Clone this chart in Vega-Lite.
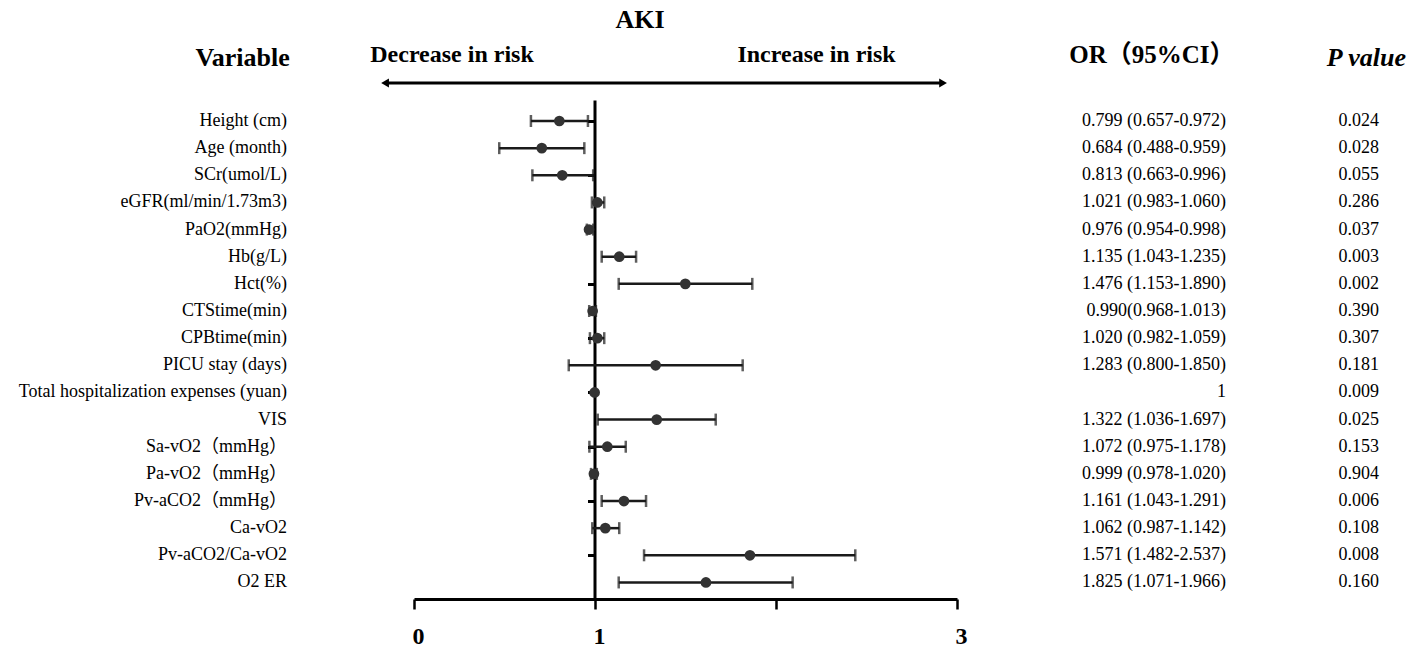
{
  "$schema": "https://vega.github.io/schema/vega-lite/v6.json",
  "width": 543,
  "height": 499,
  "autosize": {"type": "none"},
  "padding": {"left": 414, "top": 100, "right": 469, "bottom": 56},
  "background": "white",
  "config": {"view": {"stroke": null}, "font": "Liberation Serif"},
  "data": {
    "values": [
      {"row": 1, "variable": "Height (cm)", "or": 0.803, "lo": 0.646, "hi": 0.961, "or_text": "0.799 (0.657-0.972)", "p_text": "0.024"},
      {"row": 2, "variable": "Age (month)", "or": 0.706, "lo": 0.471, "hi": 0.941, "or_text": "0.684 (0.488-0.959)", "p_text": "0.028"},
      {"row": 3, "variable": "SCr(umol/L)", "or": 0.819, "lo": 0.654, "hi": 0.99, "or_text": "0.813 (0.663-0.996)", "p_text": "0.055"},
      {"row": 4, "variable": "eGFR(ml/min/1.73m3)", "or": 1.013, "lo": 0.983, "hi": 1.051, "or_text": "1.021 (0.983-1.060)", "p_text": "0.286"},
      {"row": 5, "variable": "PaO2(mmHg)", "or": 0.967, "lo": 0.955, "hi": 0.99, "or_text": "0.976 (0.954-0.998)", "p_text": "0.037"},
      {"row": 6, "variable": "Hb(g/L)", "or": 1.134, "lo": 1.037, "hi": 1.227, "or_text": "1.135 (1.043-1.235)", "p_text": "0.003"},
      {"row": 7, "variable": "Hct(%)", "or": 1.499, "lo": 1.131, "hi": 1.869, "or_text": "1.476 (1.153-1.890)", "p_text": "0.002"},
      {"row": 8, "variable": "CTStime(min)", "or": 0.987, "lo": 0.968, "hi": 1.005, "or_text": " 0.990(0.968-1.013)", "p_text": "0.390"},
      {"row": 9, "variable": "CPBtime(min)", "or": 1.013, "lo": 0.972, "hi": 1.051, "or_text": "1.020 (0.982-1.059)", "p_text": "0.307"},
      {"row": 10, "variable": "PICU stay (days)", "or": 1.335, "lo": 0.855, "hi": 1.816, "or_text": "1.283 (0.800-1.850)", "p_text": "0.181"},
      {"row": 11, "variable": "Total hospitalization expenses (yuan)", "or": 0.998, "lo": null, "hi": null, "or_text": "1", "p_text": "0.009"},
      {"row": 12, "variable": "VIS", "or": 1.341, "lo": 1.015, "hi": 1.667, "or_text": "1.322 (1.036-1.697)", "p_text": "0.025"},
      {"row": 13, "variable": "Sa-vO2（mmHg）", "or": 1.068, "lo": 0.969, "hi": 1.17, "or_text": "1.072 (0.975-1.178)", "p_text": "0.153"},
      {"row": 14, "variable": "Pa-vO2（mmHg）", "or": 0.994, "lo": 0.978, "hi": 1.01, "or_text": "0.999 (0.978-1.020)", "p_text": "0.904"},
      {"row": 15, "variable": "Pv-aCO2（mmHg）", "or": 1.16, "lo": 1.037, "hi": 1.282, "or_text": "1.161 (1.043-1.291)", "p_text": "0.006"},
      {"row": 16, "variable": "Ca-vO2", "or": 1.057, "lo": 0.985, "hi": 1.134, "or_text": "1.062 (0.987-1.142)", "p_text": "0.108"},
      {"row": 17, "variable": "Pv-aCO2/Ca-vO2", "or": 1.856, "lo": 1.271, "hi": 2.438, "or_text": "1.571 (1.482-2.537)", "p_text": "0.008"},
      {"row": 18, "variable": "O2 ER", "or": 1.613, "lo": 1.131, "hi": 2.092, "or_text": "1.825 (1.071-1.966)", "p_text": "0.160"}
    ]
  },
  "layer": [
    {
      "transform": [{"filter": "datum.lo != null"}],
      "mark": {"type": "rule", "color": "#1a1a1a", "strokeWidth": 2.5},
      "encoding": {
        "x": {
          "field": "lo", "type": "quantitative",
          "scale": {"domain": [0, 3], "nice": false, "zero": false},
          "axis": {
            "values": [0, 1, 2, 3], "format": "d", "labelExpr": "datum.value == 2 ? '' : datum.label",
            "title": null, "grid": false, "domainWidth": 3, "domainColor": "black",
            "tickColor": "black", "tickWidth": 2.5, "tickSize": 10,
            "labelFont": "Liberation Serif", "labelFontWeight": "bold", "labelFontSize": 24,
            "labelColor": "black", "labelPadding": 15, "labelFlush": false, "labelOffset": 4
          }
        },
        "x2": {"field": "hi"},
        "y": {
          "field": "row", "type": "quantitative",
          "scale": {"domain": [0.226, 18.61], "reverse": true, "nice": false, "zero": false},
          "axis": {
            "values": [1, 2, 3, 4, 5, 6, 7, 8, 9, 10, 11, 12, 13, 14, 15, 16, 17, 18],
            "labels": false, "title": null, "grid": false, "offset": -180.5,
            "domainWidth": 3, "domainColor": "black", "tickSize": 7, "tickWidth": 3, "tickColor": "black"
          }
        }
      }
    },
    {
      "transform": [{"filter": "datum.lo != null"}],
      "mark": {"type": "tick", "orient": "vertical", "color": "#1a1a1a", "thickness": 2.5, "size": 12},
      "encoding": {
        "x": {"field": "lo", "type": "quantitative"},
        "y": {"field": "row", "type": "quantitative"}
      }
    },
    {
      "transform": [{"filter": "datum.hi != null"}],
      "mark": {"type": "tick", "orient": "vertical", "color": "#1a1a1a", "thickness": 2.5, "size": 12},
      "encoding": {
        "x": {"field": "hi", "type": "quantitative"},
        "y": {"field": "row", "type": "quantitative"}
      }
    },
    {
      "mark": {"type": "point", "shape": "circle", "filled": true, "color": "#333333", "opacity": 1, "size": 115},
      "encoding": {
        "x": {"field": "or", "type": "quantitative"},
        "y": {"field": "row", "type": "quantitative"}
      }
    },
    {
      "mark": {"type": "text", "align": "right", "baseline": "middle", "font": "Liberation Serif, Noto Sans CJK SC", "fontSize": 18, "color": "black"},
      "encoding": {
        "x": {"datum": -0.702},
        "y": {"field": "row", "type": "quantitative"},
        "text": {"field": "variable"}
      }
    },
    {
      "mark": {"type": "text", "align": "right", "baseline": "middle", "font": "Liberation Serif", "fontSize": 18, "color": "black"},
      "encoding": {
        "x": {"datum": 4.486},
        "y": {"field": "row", "type": "quantitative"},
        "text": {"field": "or_text"}
      }
    },
    {
      "mark": {"type": "text", "align": "right", "baseline": "middle", "font": "Liberation Serif", "fontSize": 18, "color": "black"},
      "encoding": {
        "x": {"datum": 5.331},
        "y": {"field": "row", "type": "quantitative"},
        "text": {"field": "p_text"}
      }
    },
    {
      "data": {"values": [{"label": "AKI"}]},
      "mark": {"type": "text", "align": "center", "baseline": "middle", "font": "Liberation Serif", "fontWeight": "bold", "fontSize": 26, "color": "black"},
      "encoding": {"x": {"datum": 1.249}, "y": {"datum": -2.72}, "text": {"field": "label"}}
    },
    {
      "data": {"values": [{"label": "Variable"}]},
      "mark": {"type": "text", "align": "center", "baseline": "middle", "font": "Liberation Serif", "fontWeight": "bold", "fontSize": 26, "color": "black"},
      "encoding": {"x": {"datum": -0.947}, "y": {"datum": -1.32}, "text": {"field": "label"}}
    },
    {
      "data": {"values": [{"label": "Decrease in risk"}]},
      "mark": {"type": "text", "align": "center", "baseline": "middle", "font": "Liberation Serif", "fontWeight": "bold", "fontSize": 24, "color": "black"},
      "encoding": {"x": {"datum": 0.21}, "y": {"datum": -1.43}, "text": {"field": "label"}}
    },
    {
      "data": {"values": [{"label": "Increase in risk"}]},
      "mark": {"type": "text", "align": "center", "baseline": "middle", "font": "Liberation Serif", "fontWeight": "bold", "fontSize": 24, "color": "black"},
      "encoding": {"x": {"datum": 2.224}, "y": {"datum": -1.43}, "text": {"field": "label"}}
    },
    {
      "data": {"values": [{"label": "OR（95%CI）"}]},
      "mark": {"type": "text", "align": "center", "baseline": "middle", "font": "Liberation Serif, Noto Sans CJK SC", "fontWeight": "bold", "fontSize": 25, "color": "black"},
      "encoding": {"x": {"datum": 4.077}, "y": {"datum": -1.43}, "text": {"field": "label"}}
    },
    {
      "data": {"values": [{"label": "P value"}]},
      "mark": {"type": "text", "align": "center", "baseline": "middle", "font": "Liberation Serif", "fontWeight": "bold", "fontStyle": "italic", "fontSize": 26, "color": "black"},
      "encoding": {"x": {"datum": 5.262}, "y": {"datum": -1.32}, "text": {"field": "label"}}
    },
    {
      "data": {"values": [{"from": "Decrease in risk", "to": "Increase in risk"}]},
      "mark": {"type": "rule", "color": "black", "strokeWidth": 3},
      "encoding": {"x": {"datum": -0.16}, "x2": {"datum": 2.923}, "y": {"datum": -0.4}}
    },
    {
      "data": {"values": [{"end": "Decrease in risk"}]},
      "mark": {"type": "point", "shape": "triangle-left", "filled": true, "color": "black", "opacity": 1, "size": 80},
      "encoding": {"x": {"datum": -0.16}, "y": {"datum": -0.4}}
    },
    {
      "data": {"values": [{"end": "Increase in risk"}]},
      "mark": {"type": "point", "shape": "triangle-right", "filled": true, "color": "black", "opacity": 1, "size": 80},
      "encoding": {"x": {"datum": 2.923}, "y": {"datum": -0.4}}
    }
  ]
}
